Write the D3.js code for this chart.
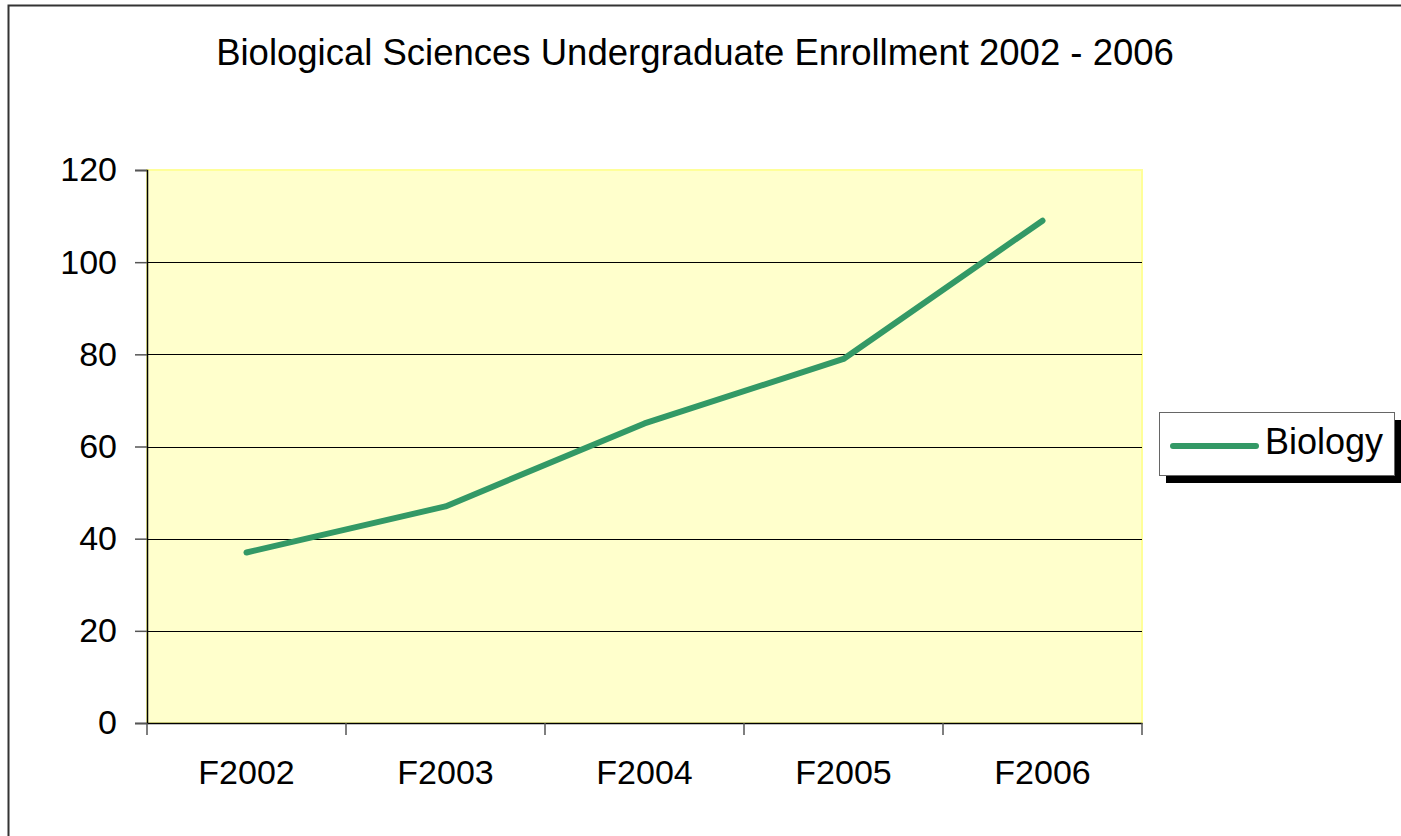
<!DOCTYPE html>
<html>
<head>
<meta charset="utf-8">
<script src="https://cdn.jsdelivr.net/npm/d3@7"></script>
<style>
  body { margin: 0; background: #fff; }
  text { font-family: "Liberation Sans", Arial, sans-serif; fill: #000; }
</style>
</head>
<body>
<div id="chart"></div>
<script>
// data
var years = ["F2002", "F2003", "F2004", "F2005", "F2006"];
var biology = [37, 47, 65, 79, 109];
var yTicks = [0, 20, 40, 60, 80, 100, 120];
var seriesName = "Biology";
var title = "Biological Sciences Undergraduate Enrollment 2002 - 2006";

var width = 1401, height = 836;
var plot = {left: 147, right: 1142, top: 170, bottom: 723};

var svg = d3.select("#chart").append("svg")
    .attr("width", width)
    .attr("height", height);

// outer chart border (only top & left are inside the picture)
svg.append("rect")
    .attr("x", 8.5).attr("y", 5.5)
    .attr("width", width + 10).attr("height", height + 10)
    .attr("fill", "#fff")
    .attr("stroke", "#333")
    .attr("stroke-width", 2);

var x = d3.scaleBand().domain(years).range([plot.left, plot.right]);
var y = d3.scaleLinear().domain([0, 120]).range([plot.bottom, plot.top]);

// plot area
svg.append("rect")
    .attr("x", plot.left).attr("y", plot.top)
    .attr("width", plot.right - plot.left)
    .attr("height", plot.bottom - plot.top)
    .attr("fill", "#ffffcc")
    .attr("stroke", "#ffff99")
    .attr("stroke-width", 2);

// gridlines
svg.append("g").selectAll("line")
    .data(yTicks.filter(function(d) { return d > 0 && d < 120; }))
    .enter().append("line")
      .attr("x1", plot.left).attr("x2", plot.right)
      .attr("y1", function(d) { return Math.round(y(d)) + 0.5; })
      .attr("y2", function(d) { return Math.round(y(d)) + 0.5; })
      .attr("stroke", "#000")
      .attr("stroke-width", 1);

// y axis
var yAxis = svg.append("g")
    .attr("transform", "translate(" + plot.left + ",0)")
    .call(d3.axisLeft(y).tickValues(yTicks).tickSize(12).tickPadding(18));
yAxis.select(".domain").attr("stroke", "#000").attr("stroke-width", 1.5);
yAxis.selectAll(".tick line").attr("stroke", "#555").attr("stroke-width", 1.5);
yAxis.selectAll("text")
    .attr("font-size", 34)
    .attr("font-family", "Liberation Sans, Arial, sans-serif")
    .attr("fill", "#000");

// x axis: ticks on the category boundaries
var xAxis = svg.append("g")
    .attr("transform", "translate(0," + plot.bottom + ")")
    .call(d3.axisBottom(x).tickSize(0).tickPadding(37));
xAxis.select(".domain").attr("stroke", "#000").attr("stroke-width", 1.5);
xAxis.selectAll("text")
    .attr("font-size", 34)
    .attr("font-family", "Liberation Sans, Arial, sans-serif")
    .attr("fill", "#000");
var bounds = years.map(function(d) { return x(d); }).concat([x.range()[1]]);
xAxis.selectAll(".bound").data(bounds).enter().append("line")
    .attr("class", "bound")
    .attr("x1", function(d) { return d; }).attr("x2", function(d) { return d; })
    .attr("y1", 0).attr("y2", 12)
    .attr("stroke", "#555").attr("stroke-width", 1.5);

// series line
var line = d3.line()
    .x(function(d, i) { return x(years[i]) + x.bandwidth() / 2; })
    .y(function(d) { return y(d); });

svg.append("path")
    .datum(biology)
    .attr("d", line)
    .attr("fill", "none")
    .attr("stroke", "#339966")
    .attr("stroke-width", 6)
    .attr("stroke-linecap", "round")
    .attr("stroke-linejoin", "round");

// title
svg.append("text")
    .attr("x", 695).attr("y", 65)
    .attr("text-anchor", "middle")
    .attr("font-size", 36.5)
    .text(title);

// legend
var lg = svg.append("g").attr("transform", "translate(1159,412)");
lg.append("rect")
    .attr("x", 7).attr("y", 8)
    .attr("width", 236).attr("height", 63)
    .attr("fill", "#000");
lg.append("rect")
    .attr("x", 0.5).attr("y", 0.5)
    .attr("width", 235).attr("height", 63)
    .attr("fill", "#fff")
    .attr("stroke", "#666")
    .attr("stroke-width", 1);
lg.append("line")
    .attr("x1", 14).attr("x2", 97)
    .attr("y1", 34).attr("y2", 34)
    .attr("stroke", "#339966")
    .attr("stroke-width", 6)
    .attr("stroke-linecap", "round");
lg.append("text")
    .attr("x", 106).attr("y", 42)
    .attr("font-size", 36)
    .text(seriesName);
</script>
</body>
</html>
